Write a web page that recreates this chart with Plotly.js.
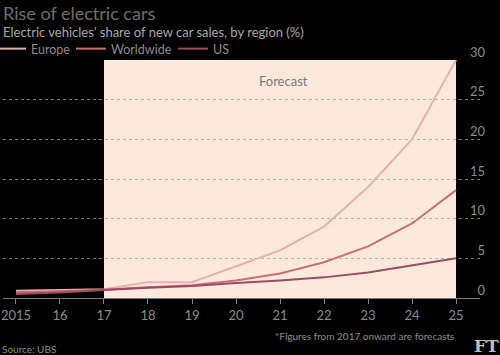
<!DOCTYPE html>
<html><head><meta charset="utf-8">
<script src="https://cdn.plot.ly/plotly-3.0.1.min.js"></script>
<style>html,body{margin:0;padding:0;background:#000;}#chart{width:500px;height:355px;}</style>
</head><body><div id="chart"></div>
<script>
const years = [2015, 2016, 2017, 2018, 2019, 2020, 2021, 2022, 2023, 2024, 2025];
const tickLabels = ["2015", "16", "17", "18", "19", "20", "21", "22", "23", "24", "25"];
const europe = [0.9, 1.0, 1.1, 2.0, 2.0, 4.0, 6.0, 9.0, 14.0, 20.0, 30.0];
const worldwide = [0.7, 0.9, 1.05, 1.35, 1.6, 2.2, 3.1, 4.5, 6.5, 9.4, 13.6];
const us = [0.5, 0.7, 1.0, 1.3, 1.5, 1.9, 2.2, 2.6, 3.2, 4.1, 5.0];
const yTicks = [0, 5, 10, 15, 20, 25, 30];

const font = "Lato, 'Open Sans', sans-serif";
// plot area: x 3..480, y 60..298 (px)
const px = v => (v - 3) / 477;
const py = v => (298 - v) / 238;

const traces = [
  {x: years, y: europe, name: "Europe", legend: "legend", type: "scatter", mode: "lines", line: {color: "#ebb0ae", width: 2}},
  {x: years, y: worldwide, name: "Worldwide", legend: "legend2", type: "scatter", mode: "lines", line: {color: "#cd6f70", width: 2}},
  {x: years, y: us, name: "US", legend: "legend3", type: "scatter", mode: "lines", line: {color: "#9d4a63", width: 2}}
];
const leg = x => ({orientation: "h", x: px(x), xanchor: "left", y: py(49), yanchor: "middle",
  font: {size: 12.5, color: "#8c8c8c"}, bgcolor: "rgba(0,0,0,0)", itemwidth: 30});
const layout = {
  width: 500, height: 355,
  paper_bgcolor: "#000", plot_bgcolor: "rgba(0,0,0,0)",
  margin: {l: 3, r: 20, t: 60, b: 57, autoexpand: false},
  font: {family: font, color: "#8c8c8c", size: 13},
  showlegend: true,
  legend: leg(-9),
  legend2: leg(71),
  legend3: leg(173),
  xaxis: {range: [2014.705, 2025.545], tickvals: years, ticktext: tickLabels, showgrid: false,
    zeroline: false, showline: true, linecolor: "#7a7a7a", linewidth: 1, automargin: false,
    ticks: "outside", ticklen: 5, tickcolor: "#7a7a7a", tickfont: {size: 13, color: "#8c8c8c"}, fixedrange: true},
  yaxis: {range: [0, 30], side: "right", tickvals: yTicks, ticktext: yTicks.map(String), automargin: false,
    ticklabelposition: "inside", ticklabeloverflow: "allow", ticklabelshift: -8, ticklabelstandoff: -8,
    showgrid: true, gridcolor: "rgba(170,160,150,0.75)", griddash: "dot", gridwidth: 1,
    zeroline: false, showline: false, ticks: "", tickfont: {size: 13, color: "#8c8c8c"}, fixedrange: true},
  shapes: [
    {type: "rect", xref: "x", yref: "y", x0: 2017, x1: 2025, y0: 0, y1: 30, fillcolor: "#fbeadb", line: {width: 0}, layer: "below"}
  ],
  annotations: [
    {text: "Rise of electric cars", xref: "paper", yref: "paper", x: px(1), xanchor: "left", y: py(13), yanchor: "middle",
      showarrow: false, font: {size: 18, color: "#6e6e6e"}},
    {text: "Electric vehicles’ share of new car sales, by region (%)", xref: "paper", yref: "paper",
      x: px(1), xanchor: "left", y: py(32), yanchor: "middle", showarrow: false, font: {size: 13, color: "#a8a8a8"}},
    {text: "Forecast", xref: "x", yref: "paper", x: 2020.48, y: py(81), xanchor: "left", yanchor: "middle",
      showarrow: false, font: {size: 13, color: "#7a7a7a"}},
    {text: "*Figures from 2017 onward are forecasts", xref: "paper", yref: "paper",
      x: px(456), xanchor: "right", y: py(336), yanchor: "middle", showarrow: false, font: {size: 10, color: "#8c8c8c"}},
    {text: "Source: UBS", xref: "paper", yref: "paper",
      x: px(0), xanchor: "left", y: py(349), yanchor: "middle", showarrow: false, font: {size: 10, color: "#8c8c8c"}},
    {text: "<b>FT</b>", xref: "paper", yref: "paper",
      x: px(501), xanchor: "right", y: py(346), yanchor: "middle", showarrow: false,
      font: {size: 17, color: "#bfbfbf", family: "'DejaVu Serif', 'Liberation Serif', serif"}}
  ]
};
Plotly.newPlot("chart", traces, layout, {displayModeBar: false, staticPlot: true});
</script></body></html>
